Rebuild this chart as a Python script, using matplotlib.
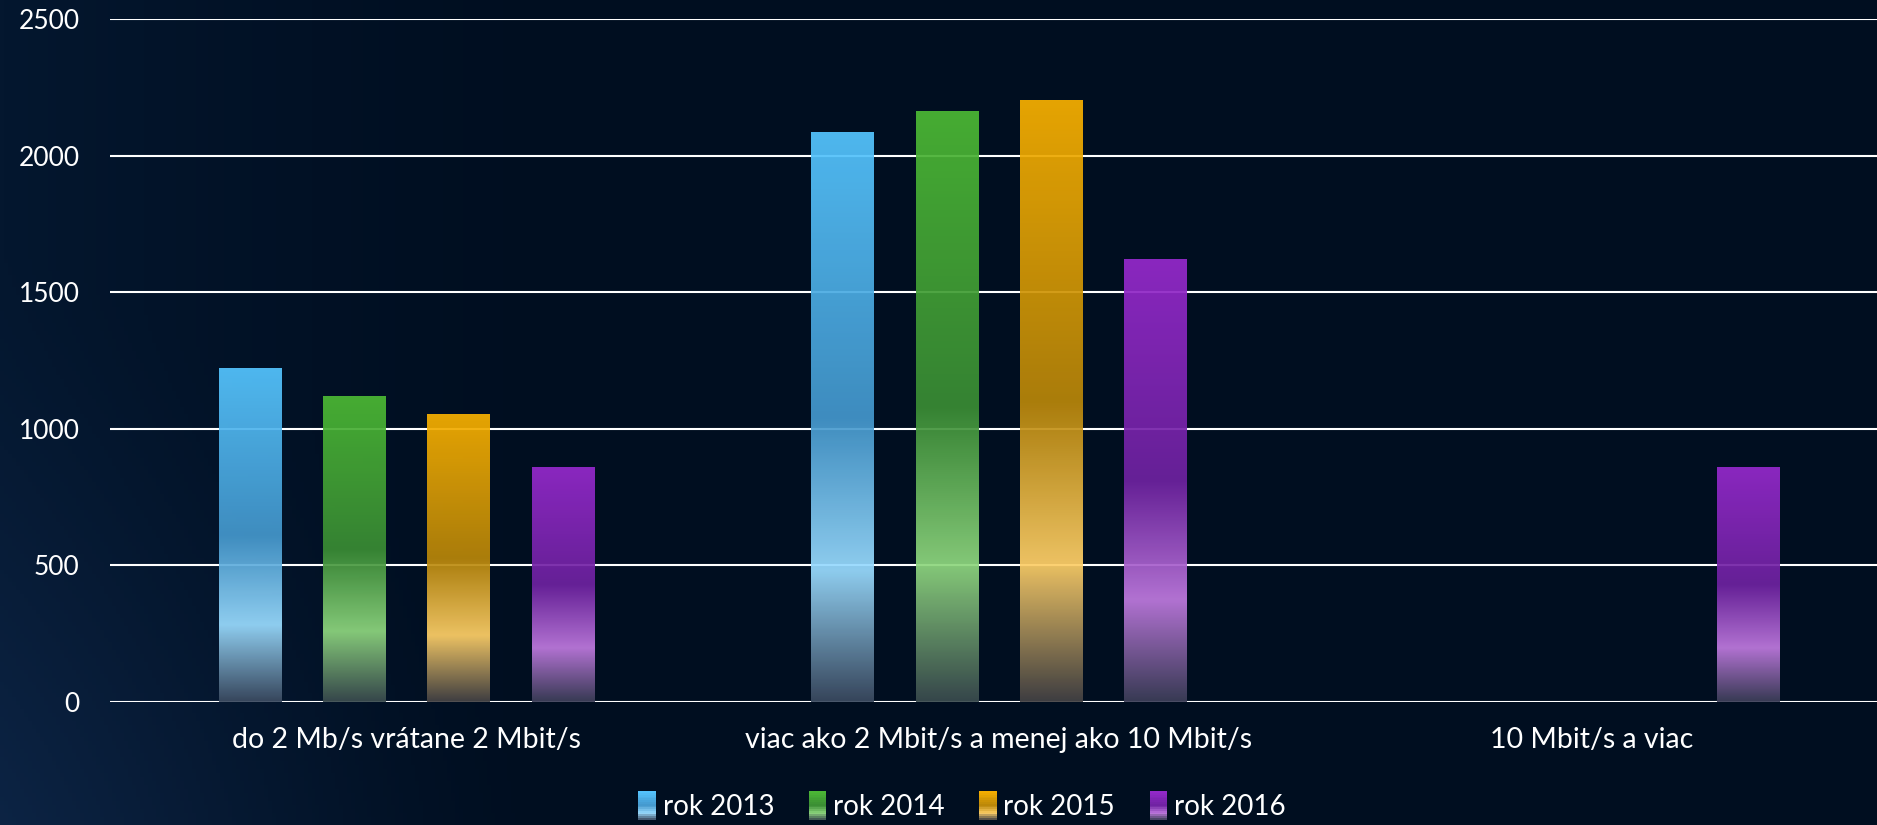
import numpy as np
import matplotlib
matplotlib.use("Agg")
import matplotlib.pyplot as plt
from matplotlib.colors import LinearSegmentedColormap, to_rgb
from matplotlib.legend_handler import HandlerBase
from matplotlib.patches import Rectangle

# data
categories = ["do 2 Mb/s vrátane 2 Mbit/s",
              "viac ako 2 Mbit/s a menej ako 10 Mbit/s",
              "10 Mbit/s a viac"]
series = ["rok 2013", "rok 2014", "rok 2015", "rok 2016"]
rok_2013 = [1222, 2086, 0]
rok_2014 = [1120, 2160, 0]
rok_2015 = [1054, 2203, 0]
rok_2016 = [860, 1618, 860]
values = [rok_2013, rok_2014, rok_2015, rok_2016]

# gradient stops from top of bar to bottom
stops = [0.0, 0.5, 0.77, 1.0]
grad_colors = [
    ["#55c5ff", "#4497cc", "#9adcff", "#3b4a60"],
    ["#4cb935", "#3a8c34", "#8fd77f", "#3a4b4e"],
    ["#f8b000", "#b8860a", "#ffd068", "#444244"],
    ["#9529cc", "#6e22a0", "#c07ae0", "#3c3e58"],
]
cmaps = [LinearSegmentedColormap.from_list("g%d" % i, list(zip(stops, c)))
         for i, c in enumerate(grad_colors)]

plt.rcParams['font.family'] = ['Lato', 'DejaVu Sans']

W, H = 1877, 825
fig = plt.figure(figsize=(W / 100, H / 100), dpi=100)

# background: dark navy, a bit lighter on the left, glow in bottom-left
bg = fig.add_axes([0, 0, 1, 1], zorder=-10)
yy, xx = np.mgrid[0:H:4, 0:W:4]
base = np.array(to_rgb("#000e20"))
left = np.array(to_rgb("#04172f"))
light = np.array(to_rgb("#15315a"))
side = np.clip(1 - xx / 600, 0, 1) ** 1.5
img = base + side[..., None] * (left - base)
d = np.sqrt((xx + 250) ** 2 + (yy - 1000) ** 2)
glow = np.clip(1 - d / 800, 0, 1) ** 1.5
img = img + glow[..., None] * (light - img)
bg.imshow(img, extent=[0, 1, 0, 1], aspect='auto', origin='upper')
bg.set_axis_off()

ax = fig.add_axes([110 / W, 1 - 702 / H, 1 - 110 / W, (702 - 19) / H])
ax.patch.set_visible(False)

x = np.arange(len(categories))
width = 0.105
offsets = [-0.264, -0.088, 0.088, 0.264]

for vals, off, cmap in zip(values, offsets, cmaps):
    bars = ax.bar(x + off, vals, width, color="none", zorder=2)
    grad = np.linspace(0, 1, 256)[:, None]
    for b in bars:
        h = b.get_height()
        if h <= 0:
            continue
        x0 = b.get_x()
        ax.imshow(grad, cmap=cmap, extent=[x0, x0 + b.get_width(), 0, h],
                  aspect='auto', origin='upper', alpha=0.93, zorder=3,
                  interpolation='bilinear')

ax.set_xlim(-0.5, -0.5 + 1767 / 592.5)
ax.set_ylim(0, 2500)
ax.set_yticks([0, 500, 1000, 1500, 2000, 2500])
ax.yaxis.grid(True, color="white", linewidth=1.5)
ax.set_axisbelow(True)
for s in ax.spines.values():
    s.set_visible(False)
ax.tick_params(axis='both', length=0, colors="white")
ax.tick_params(axis='y', pad=22, labelsize=19)
ax.tick_params(axis='x', pad=18, labelsize=20.5)
ax.set_xticks(x)
ax.set_xticklabels(categories)


class GradProxy:
    def __init__(self, cmap):
        self.cmap = cmap


class GradHandler(HandlerBase):
    def create_artists(self, legend, orig_handle, xdescent, ydescent,
                       width, height, fontsize, trans):
        n = 16
        arts = []
        for i in range(n):
            r = Rectangle((-xdescent, -ydescent + height * (1 - (i + 1) / n)),
                          width, height / n + 0.3,
                          facecolor=orig_handle.cmap((i + 0.5) / n),
                          edgecolor="none", transform=trans)
            arts.append(r)
        return arts


proxies = [GradProxy(c) for c in cmaps]
leg = fig.legend(proxies, series, handler_map={GradProxy: GradHandler()},
                 loc="center", bbox_to_anchor=(962 / W, 1 - 806 / H),
                 ncol=4, frameon=False, fontsize=20, labelcolor="white",
                 handlelength=0.62, handleheight=1.2, handletextpad=0.25,
                 columnspacing=1.25)

fig.savefig("out.png", dpi=100)
